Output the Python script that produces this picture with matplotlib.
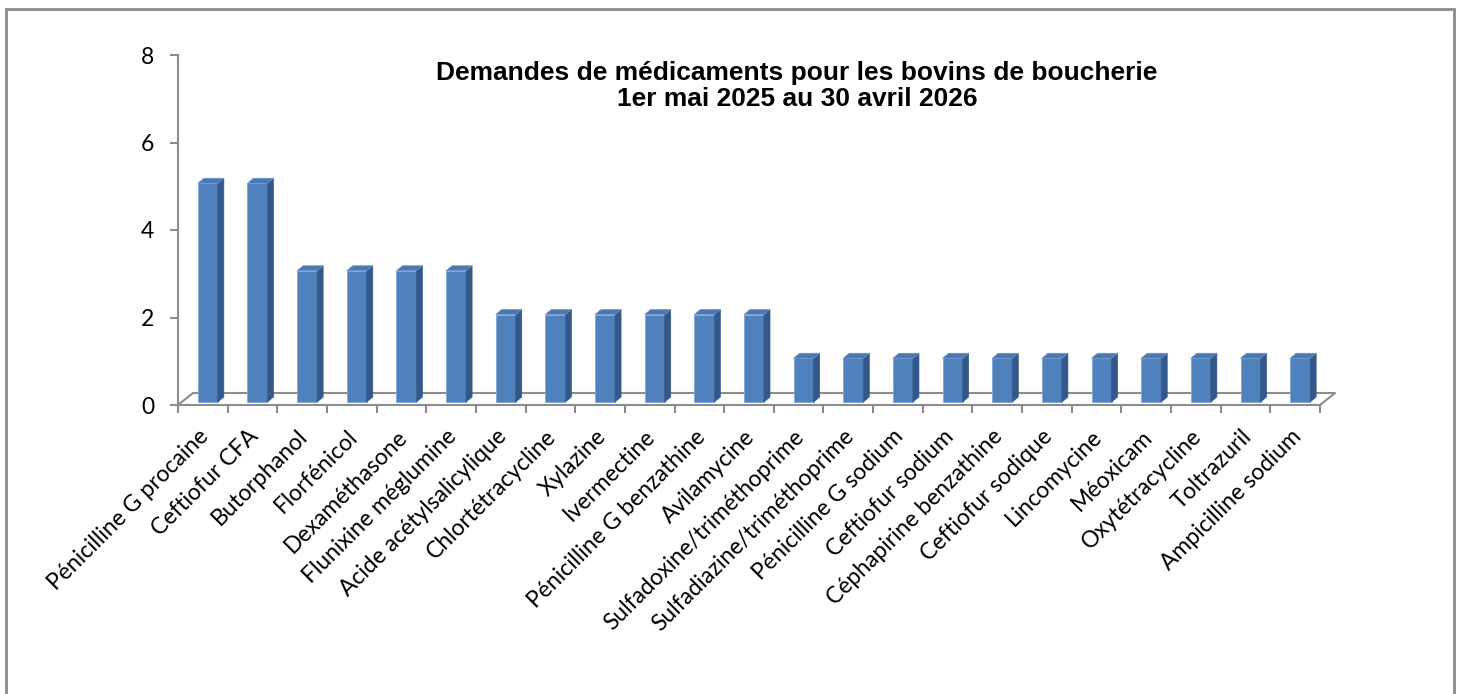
import matplotlib.pyplot as plt
from matplotlib.patches import Polygon, Rectangle
from matplotlib.lines import Line2D
from matplotlib.transforms import ScaledTranslation

medicaments = [
    "Pénicilline G procaine", "Ceftiofur CFA", "Butorphanol", "Florfénicol",
    "Dexaméthasone", "Flunixine méglumine", "Acide acétylsalicylique",
    "Chlortétracycline", "Xylazine", "Ivermectine", "Pénicilline G benzathine",
    "Avilamycine", "Sulfadoxine/triméthoprime", "Sulfadiazine/triméthoprime",
    "Pénicilline G sodium", "Ceftiofur sodium", "Céphapirine benzathine",
    "Ceftiofur sodique", "Lincomycine", "Méoxicam", "Oxytétracycline",
    "Toltrazuril", "Ampicilline sodium",
]
demandes = [5, 5, 3, 3, 3, 3, 2, 2, 2, 2, 2, 2, 1, 1, 1, 1, 1, 1, 1, 1, 1, 1, 1]
y_ticks = [0, 2, 4, 6, 8]
titre = "Demandes de médicaments pour les bovins de boucherie\n1er mai 2025 au 30 avril 2026"

W, H = 1459, 694
fig = plt.figure(figsize=(W / 100, H / 100), dpi=100)

# outer chart frame
fig.patches.append(Rectangle((6 / W, -0.05), (1454 - 6) / W, 1.05 - 9 / H,
                             transform=fig.transFigure, fill=False,
                             edgecolor="#8c8c8c", linewidth=2))

ax_l, ax_r, ax_t, ax_b = 178, 1320, 55, 405
ax = fig.add_axes([ax_l / W, 1 - ax_b / H, (ax_r - ax_l) / W, (ax_b - ax_t) / H])
n = len(medicaments)
ax.set_xlim(-0.5, n - 0.5)
ax.set_ylim(0, 8)

# pixel -> data conversions
px_x = n / (ax_r - ax_l)
px_y = 8 / (ax_b - ax_t)

front = "#4f81bd"
side = "#35588a"
top = "#4a78b2"
grey = "#8c8c8c"

# bar geometry (pseudo 3D like Excel)
bw = 20 * px_x
off_x, off_y = 5 * px_x - bw / 2, 3 * px_y
dx, dy = 6 * px_x, 5 * px_y

# floor
Dx, Dy = 15 * px_x, 12 * px_y
floor = Line2D([-0.5, -0.5 + Dx, n - 0.5 + Dx, n - 0.5],
               [0, Dy, Dy, 0], color=grey, linewidth=1.5, clip_on=False, zorder=1)
ax.add_line(floor)

bars = ax.bar([i + 5 * px_x for i in range(n)], demandes, width=bw, bottom=off_y,
              color=front, edgecolor="#7fa6d6", linewidth=0.6, zorder=3)
for i, h in enumerate(demandes):
    x0 = i + off_x
    x1 = x0 + bw
    y0 = off_y
    y1 = off_y + h
    ax.add_patch(Polygon([(x1, y0), (x1 + dx, y0 + dy), (x1 + dx, y1 + dy), (x1, y1)],
                         closed=True, facecolor=side, edgecolor=side, linewidth=0.5,
                         zorder=3, clip_on=False))
    ax.add_patch(Polygon([(x0, y1), (x1, y1), (x1 + dx, y1 + dy), (x0 + dx, y1 + dy)],
                         closed=True, facecolor=top, edgecolor="#6a95c8", linewidth=0.5,
                         zorder=3, clip_on=False))

for s in ["top", "right"]:
    ax.spines[s].set_visible(False)
for s in ["left", "bottom"]:
    ax.spines[s].set_color(grey)
    ax.spines[s].set_linewidth(1.5)

ax.set_yticks(y_ticks)
ax.tick_params(axis="y", length=6, width=1.5, color=grey, pad=11,
               labelsize=16.5)
for lab in ax.get_yticklabels():
    lab.set_family("Lato")

ax.set_xticks([i - 0.5 for i in range(n + 1)], minor=True)
ax.tick_params(axis="x", which="minor", length=6, width=1.5, color=grey)
ax.set_xticks(range(n))
ax.set_xticklabels(medicaments, rotation=45, ha="right", rotation_mode="anchor",
                   family="Lato", fontsize=16.5)
ax.tick_params(axis="x", which="major", length=0, pad=15)
shift = ScaledTranslation(-5 / 100, 0, fig.dpi_scale_trans)
for lab in ax.get_xticklabels():
    lab.set_transform(lab.get_transform() + shift)

fig.text(797 / W, 1 - 86 / H, titre, ha="center", va="center",
         family="Liberation Sans", fontweight="bold", fontsize=19, linespacing=1.15)

fig.savefig("out.png", dpi=100)
